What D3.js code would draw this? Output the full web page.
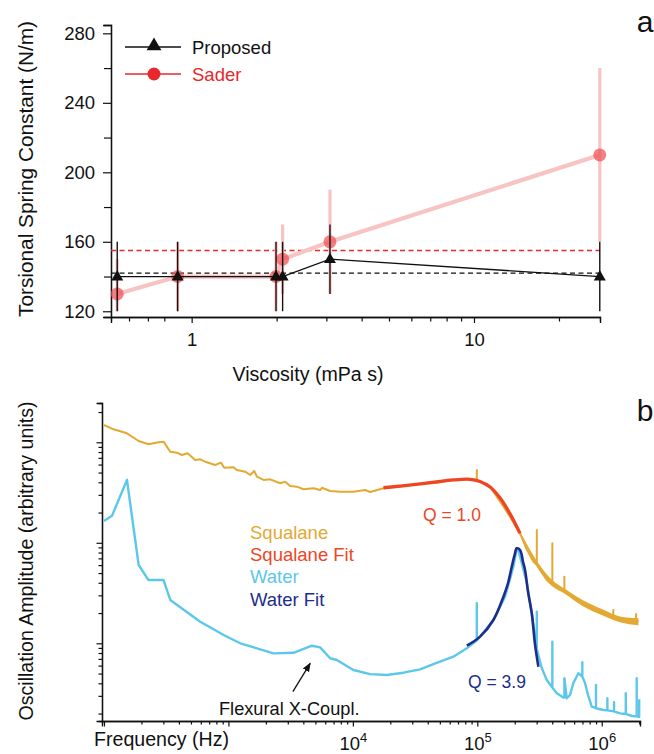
<!DOCTYPE html>
<html><head><meta charset="utf-8">
<script src="https://cdn.jsdelivr.net/npm/d3@7"></script>
<style>
body{margin:0;background:#fff;}
svg text{font-family:"Liberation Sans",Arial,Helvetica,sans-serif;}
</style></head>
<body><svg id="c" width="654" height="754"></svg>
<script>
// ---------- Panel a data ----------
const viscosity   = [0.545, 0.892, 1.99, 2.10, 3.09, 27.9];
const proposedK   = [140, 140, 140, 140, 150, 140];
const proposedLo  = [120, 120, 120, 120, 130, 120];
const proposedHi  = [160, 160, 160, 160, 170, 160];
const saderK      = [130, 140, 140, 150, 160, 210];
const saderLo     = [120, 120, 120, 130, 130, 160];
const saderHi     = [150, 160, 160, 170, 190, 260];
const proposedMean = 142;
const saderMean    = 155;
const aYTicks = [120, 160, 200, 240, 280];
const aYMinor = [140, 180, 220, 260];
const aXTicks = [1, 10];
const aXMinor = [0.6, 0.7, 0.8, 2, 3, 4, 5, 6, 7, 8, 9, 20];

// ---------- Panel b data ----------
const squalaneFreq = [100,119.4,153,190,228,274.5,301,341,385.5,423,469.5,541,593,651,783,871,925,1099,1170,1364,1496,1611,1694,1914,2168,2606,2859,3135,3548,4011,4827,5459,5636,6571,7907,10100,12560,13770,17620,21870,28850,34740,45810,64270,79800,99100,99100,99100,111900,126700,143500,161100,183400,220600,246600,282500,300800,300800,300800,361700,401000,401000,401000,435100,501000,501000,501000,523600,622300,758000,899000,1097000,1239000,1239000,1239000,1403000,1888000,1888000,1888000,1970000];
const squalaneAmp  = [1.486,1.347,1.229,1.03,0.955,1.0,1.014,0.806,0.788,0.747,0.777,0.667,0.677,0.641,0.594,0.627,0.559,0.564,0.530,0.510,0.473,0.518,0.455,0.422,0.428,0.391,0.406,0.367,0.362,0.341,0.349,0.335,0.353,0.328,0.322,0.322,0.335,0.320,0.349,0.359,0.376,0.385,0.393,0.422,0.432,0.422,0.530,0.422,0.391,0.359,0.288,0.232,0.182,0.124,0.0888,0.0649,0.0601,0.134,0.0601,0.0426,0.038,0.0989,0.038,0.0363,0.0331,0.046,0.0331,0.0315,0.027,0.0231,0.0210,0.0191,0.0183,0.0214,0.0183,0.0173,0.0169,0.0196,0.0169,0.0164];
const squalaneBandFreq = [183400,220600,300800,401000,501000,700000,1000000,1400000,1970000];
const squalaneBandLo   = [0.178,0.120,0.0585,0.0370,0.0313,0.0235,0.0191,0.0162,0.0151];
const squalaneBandHi   = [0.188,0.128,0.0660,0.0425,0.0351,0.0270,0.0219,0.0185,0.0178];
const squalaneFitFreq = [17620,34740,64270,87500,105200,126700,152500,183400,220600];
const squalaneFitAmp  = [0.353,0.385,0.422,0.428,0.407,0.359,0.279,0.194,0.124];
const waterFreq = [100,116,153,190,228,301,341,478,593,736,914,1244,1694,2301,3334,4688,5459,6571,7430,10100,13770,18750,25470,34740,44360,64270,82370,99100,99100,99100,105200,134700,167200,195000,207600,213800,249800,274000,300800,300800,300800,329600,361700,401000,401000,401000,435100,491700,501000,501000,523600,556000,591600,648800,698400,698400,698400,734000,776000,831000,899000,899000,899000,1030000,1110000,1110000,1110000,1256000,1256000,1256000,1403000,1560000,1560000,1560000,1750000,1910000,1910000,1910000,2000000,2000000];
const waterAmp  = [0.165,0.186,0.422,0.0601,0.0426,0.0426,0.0270,0.0199,0.0164,0.0141,0.0121,0.0100,0.00891,0.00794,0.00805,0.00946,0.00912,0.00710,0.00682,0.00542,0.00494,0.00484,0.00510,0.00551,0.00622,0.00736,0.00891,0.0107,0.0250,0.0107,0.01164,0.01706,0.0291,0.0578,0.0881,0.0848,0.0400,0.0199,0.0087,0.0206,0.0087,0.00568,0.00431,0.00363,0.01038,0.00363,0.00318,0.00289,0.00289,0.00449,0.00284,0.00306,0.00403,0.00503,0.00466,0.00647,0.00466,0.00403,0.00306,0.00234,0.00226,0.00385,0.00226,0.00217,0.00215,0.00284,0.00215,0.00210,0.0026,0.00210,0.00201,0.00198,0.00318,0.00198,0.00189,0.00188,0.00449,0.00188,0.00185,0.00277];
const waterFitFreq = [82370,105200,134700,162200,176700,189200,199500,207600,220600,233300,242000,255800,274000,291100,309700];
const waterFitAmp  = [0.00946,0.01164,0.01706,0.0291,0.0398,0.0578,0.0757,0.0881,0.0848,0.0644,0.0536,0.0324,0.0199,0.0097,0.00585];
const bXMajor = [1e2, 1e3, 1e4, 1e5, 1e6];
const bXLabeled = [1e4, 1e5, 1e6];
const bYMajor = [0.01, 0.1, 1];
const bLegend = ["Squalane", "Squalane Fit", "Water", "Water Fit"];
const flexPoint = [4540, 0.00632];
const flexTail  = [3296, 0.0033];

// ---------- colors ----------
const C = {squal:"#e3a932", sqFit:"#ee4623", water:"#5cc7eb", wFit:"#1e2d8b",
           pink:"#f7c3c3", sader:"#e8282d", saderPt:"rgba(238,80,84,0.72)"};

const svg = d3.select("#c");
const pairs = (xs, ys) => xs.map((x,i)=>[x, ys[i]]);

// ================= Panel a =================
const xA = d3.scaleLog().domain([0.518, 27.95]).range([111, 600]);
const yA = d3.scaleLinear().domain([116.7, 284.8]).range([317, 25]);
const gA = svg.append("g");

function styleAxis(g){ g.select(".domain").attr("stroke","#111").attr("stroke-width",1.3);
  g.selectAll(".tick line").attr("stroke","#111").attr("stroke-width",1.2);
  g.selectAll("text").attr("fill","#111"); }

// minor ticks
gA.append("g").attr("transform","translate(111,0)")
  .call(d3.axisLeft(yA).tickValues(aYMinor).tickSize(7).tickFormat(""))
  .call(styleAxis);
gA.append("g").attr("transform","translate(0,317)")
  .call(d3.axisBottom(xA).tickValues(aXMinor).tickSize(4.5).tickFormat(""))
  .call(styleAxis);
// major
gA.append("g").attr("transform","translate(111,0)")
  .call(d3.axisLeft(yA).tickValues(aYTicks).tickSize(8).tickPadding(8).tickFormat(d3.format("d")))
  .call(styleAxis).selectAll("text").attr("font-size",18.5).attr("font-family","Liberation Sans, Arial");
gA.append("g").attr("transform","translate(0,317)")
  .call(d3.axisBottom(xA).tickValues(aXTicks).tickSize(6).tickPadding(10).tickFormat(d3.format("d")))
  .call(styleAxis).selectAll("text").attr("font-size",18.5).attr("font-family","Liberation Sans, Arial");

// dashed means
gA.append("line").attr("x1",xA.range()[0]).attr("x2",xA(viscosity[5]))
  .attr("y1",yA(saderMean)).attr("y2",yA(saderMean))
  .attr("stroke",C.sader).attr("stroke-width",1.5).attr("stroke-dasharray","5,3.5");
gA.append("line").attr("x1",xA.range()[0]).attr("x2",xA(viscosity[5]))
  .attr("y1",yA(proposedMean)).attr("y2",yA(proposedMean))
  .attr("stroke","#111").attr("stroke-width",1.3).attr("stroke-dasharray","5,3.5");

// Sader (pink)
const sader = pairs(viscosity, saderK);
gA.selectAll(".se").data(viscosity).enter().append("line")
  .attr("x1",d=>xA(d)).attr("x2",d=>xA(d))
  .attr("y1",(d,i)=>yA(saderLo[i])).attr("y2",(d,i)=>yA(saderHi[i]))
  .attr("stroke",C.pink).attr("stroke-width",3.2);
gA.append("path").datum(sader)
  .attr("d", d3.line().x(d=>xA(d[0])).y(d=>yA(d[1])))
  .attr("fill","none").attr("stroke",C.pink).attr("stroke-width",4.2);
gA.selectAll(".sp").data(sader).enter().append("circle")
  .attr("cx",d=>xA(d[0])).attr("cy",d=>yA(d[1])).attr("r",6.5)
  .attr("fill",C.saderPt);

// Proposed (black)
const prop = pairs(viscosity, proposedK);
gA.selectAll(".pe").data(viscosity).enter().append("line")
  .attr("x1",d=>xA(d)).attr("x2",d=>xA(d))
  .attr("y1",(d,i)=>yA(proposedLo[i])).attr("y2",(d,i)=>yA(proposedHi[i]))
  .attr("stroke","#1a1010").attr("stroke-width",1.4);
gA.append("path").datum(prop)
  .attr("d", d3.line().x(d=>xA(d[0])).y(d=>yA(d[1])))
  .attr("fill","none").attr("stroke","#111").attr("stroke-width",1.3);
const tri = d3.symbol().type(d3.symbolTriangle).size(62);
gA.selectAll(".pt").data(prop).enter().append("path")
  .attr("d",tri).attr("transform",d=>`translate(${xA(d[0])},${yA(d[1])+0.5})`)
  .attr("fill","#111");

// legend a
gA.append("line").attr("x1",125).attr("x2",181).attr("y1",47).attr("y2",47).attr("stroke","#111").attr("stroke-width",1.3);
gA.append("path").attr("d",d3.symbol().type(d3.symbolTriangle).size(95)).attr("transform","translate(154,46)").attr("fill","#111");
gA.append("text").attr("x",192).attr("y",53.5).attr("font-size",18.5).attr("fill","#111").text("Proposed");
gA.append("line").attr("x1",125).attr("x2",181).attr("y1",74).attr("y2",74).attr("stroke",C.sader).attr("stroke-width",1.3);
gA.append("circle").attr("cx",154).attr("cy",74).attr("r",6.5).attr("fill",C.sader);
gA.append("text").attr("x",192).attr("y",80.5).attr("font-size",18.5).attr("fill",C.sader).text("Sader");

// titles a
gA.append("text").attr("transform","translate(33,169) rotate(-90)").attr("text-anchor","middle")
  .attr("font-size",20.8).attr("fill","#111").text("Torsional Spring Constant (N/m)");
gA.append("text").attr("x",308).attr("y",381).attr("text-anchor","middle")
  .attr("font-size",19.6).attr("fill","#111").text("Viscosity (mPa s)");
gA.append("text").attr("x",645).attr("y",32).attr("text-anchor","middle")
  .attr("font-size",30).attr("fill","#111").text("a");

// ================= Panel b =================
const xB = d3.scaleLog().domain([96.4, 2.03e6]).range([102, 640]);
const yB = d3.scaleLog().domain([0.001686, 2.46]).range([721, 403]);
const gB = svg.append("g");

const bXMinor = [], bYMinor = [];
for (let e=2; e<=6; e++) for (let m=2; m<=9; m++){ const v=m*Math.pow(10,e); if (v<=xB.domain()[1]) bXMinor.push(v); }
for (let e=-3; e<=0; e++) for (let m=2; m<=9; m++){ const v=m*Math.pow(10,e); if (v>=yB.domain()[0] && v<=yB.domain()[1]) bYMinor.push(v); }

gB.append("g").attr("transform","translate(102,0)")
  .call(d3.axisLeft(yB).tickValues(bYMinor).tickSize(3.5).tickFormat(""))
  .call(styleAxis);
gB.append("g").attr("transform","translate(102,0)")
  .call(d3.axisLeft(yB).tickValues(bYMajor).tickSize(5.5).tickFormat(""))
  .call(styleAxis);
gB.append("g").attr("transform","translate(0,721)")
  .call(d3.axisBottom(xB).tickValues(bXMinor).tickSize(3.5).tickFormat(""))
  .call(styleAxis);
const xAxB = gB.append("g").attr("transform","translate(0,721)")
  .call(d3.axisBottom(xB).tickValues(bXMajor).tickSize(5.5).tickFormat(""))
  .call(styleAxis);
xAxB.selectAll(".tick").filter(d=>bXLabeled.includes(d)).append("text")
  .attr("y",29).attr("text-anchor","middle").attr("fill","#111").attr("font-size",18.5)
  .each(function(d){ const t=d3.select(this);
    t.append("tspan").text("10");
    t.append("tspan").attr("dy",-8).attr("font-size",13).text(String(Math.round(Math.log10(d)))); });

// lines
const lineB = d3.line().x(d=>xB(d[0])).y(d=>yB(d[1]));
const smoothB = d3.line().x(d=>xB(d[0])).y(d=>yB(d[1])).curve(d3.curveCatmullRom.alpha(0.5));

gB.append("path").datum(squalaneBandFreq.map((f,i)=>[f,squalaneBandLo[i],squalaneBandHi[i]]))
  .attr("d", d3.area().x(d=>xB(d[0])).y0(d=>yB(d[1])).y1(d=>yB(d[2])).curve(d3.curveMonotoneX))
  .attr("fill",C.squal);
gB.append("path").datum(pairs(squalaneFreq, squalaneAmp)).attr("d",lineB)
  .attr("fill","none").attr("stroke",C.squal).attr("stroke-width",2).attr("stroke-linejoin","round");
gB.append("path").datum(pairs(squalaneFitFreq, squalaneFitAmp)).attr("d",smoothB)
  .attr("fill","none").attr("stroke",C.sqFit).attr("stroke-width",3.3);
gB.append("path").datum(pairs(waterFreq, waterAmp)).attr("d",lineB)
  .attr("fill","none").attr("stroke",C.water).attr("stroke-width",2.4).attr("stroke-linejoin","round");
gB.append("path").datum(pairs(waterFitFreq, waterFitAmp)).attr("d",smoothB)
  .attr("fill","none").attr("stroke",C.wFit).attr("stroke-width",2.6);

// legend b
const legCols = [C.squal, C.sqFit, C.water, C.wFit];
gB.selectAll(".lg").data(bLegend).enter().append("text")
  .attr("x",250).attr("y",(d,i)=>538.5+i*22.4).attr("font-size",18.5)
  .attr("fill",(d,i)=>legCols[i]).text(d=>d);

gB.append("text").attr("x",452).attr("y",521).attr("text-anchor","middle").attr("font-size",17.5).attr("fill",C.sqFit).text("Q = 1.0");
gB.append("text").attr("x",497).attr("y",688).attr("text-anchor","middle").attr("font-size",17.5).attr("fill",C.wFit).text("Q = 3.9");

// annotation
svg.append("defs").append("marker").attr("id","ah").attr("viewBox","0 0 10 10").attr("refX",9).attr("refY",5)
  .attr("markerWidth",7).attr("markerHeight",7).attr("orient","auto")
  .append("path").attr("d","M0,1 L10,5 L0,9 Z").attr("fill","#111");
gB.append("line").attr("x1",xB(flexTail[0])).attr("y1",yB(flexTail[1]))
  .attr("x2",xB(flexPoint[0])).attr("y2",yB(flexPoint[1]))
  .attr("stroke","#111").attr("stroke-width",1.3).attr("marker-end","url(#ah)");
gB.append("text").attr("x",219).attr("y",715).attr("font-size",18.2).attr("fill","#111").text("Flexural X-Coupl.");

// titles b
gB.append("text").attr("transform","translate(33,561) rotate(-90)").attr("text-anchor","middle")
  .attr("font-size",19.6).attr("fill","#111").text("Oscillation Amplitude (arbitrary units)");
gB.append("text").attr("x",94).attr("y",746).attr("font-size",19.6).attr("fill","#111").text("Frequency (Hz)");
gB.append("text").attr("x",645).attr("y",421).attr("text-anchor","middle").attr("font-size",30).attr("fill","#111").text("b");
</script></body></html>
